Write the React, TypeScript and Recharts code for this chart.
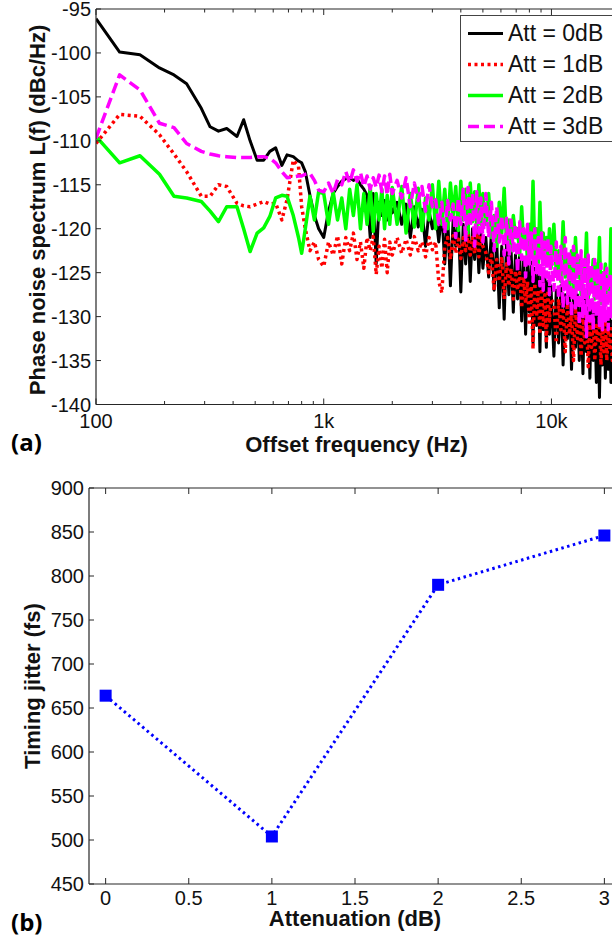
import React from "react";
import { LineChart, Line, XAxis, YAxis, Legend, Label } from "recharts";

const FONT = '"Liberation Sans", Arial, Helvetica, sans-serif';
const AXIS = "#262626";
const INK = "#111";

// (a) phase noise spectrum, offset frequency grid in Hz
const offsetFreq = [
  100, 127, 156, 190, 220, 250, 290, 317, 345, 375, 416, 445, 475, 510, 545, 580, 615, 655, 690, 735, 775, 800, 830, 870, 910, 950,
  1000, 1050, 1100, 1150, 1200, 1250, 1300, 1350, 1400, 1450, 1500, 1550, 1600, 1650, 1700, 1750, 1800, 1850, 1900, 1950, 2000,
  2100, 2200, 2300, 2400, 2500, 2600, 2700, 2800, 2900, 3000, 3100, 3200, 3300, 3400, 3500, 3600, 3700, 3800, 3900, 4000,
  4100, 4200, 4300, 4400, 4500, 4600, 4700, 4800, 4900, 5000,
  5150, 5300, 5450, 5600, 5750, 5900, 6050, 6200, 6350, 6500, 6650, 6800, 6950, 7100, 7250, 7400, 7550, 7700, 7850, 8000,
  8150, 8300, 8450, 8600, 8750, 8900, 9050, 9200, 9350, 9500, 9650, 9800, 9950,
  10250, 10500, 10750, 11000, 11250, 11500, 11750, 12000, 12250, 12500, 12750, 13000, 13250, 13500, 13750, 14000,
  14250, 14500, 14750, 15000, 15250, 15500, 15750, 16000, 16250, 16500, 16750, 17000, 17250, 17500, 17750, 18000,
  18250, 18500, 18750, 19000, 19250, 19500, 19750, 20000,
];

const att0dB = [
  -96.1, -99.9, -100.2, -101.7, -102.5, -103.5, -106.3, -108.4, -108.9, -108.6, -109.5, -107.6, -110, -112.2, -112.2, -111.2,
  -110.8, -112.8, -111.6, -111.8, -112.3, -112.5, -113.5, -116.2, -118.5, -120,
  -121, -118, -116, -115.2, -114.6, -114.3, -114.2, -114.5, -114.3, -115, -115.5, -116.2, -121, -116, -124, -117, -118.5,
  -116.8, -119, -117, -118.2,
  -117, -119.5, -117.2, -121, -117.5, -119.8, -117.8, -122, -118, -120, -118.2, -121.5, -118, -124, -118.5, -126.5, -119,
  -122, -118.8, -127.2, -119.5, -124, -119.2, -126, -120, -123.5, -119.5, -125, -120.5, -124.5,
  -121, -125.5, -120.5, -127, -121.5, -129, -122, -130.3, -121.5, -127.5, -122.5, -129.5, -123, -128, -122.8, -130.5,
  -123.5, -132, -124, -129.5, -123.8, -133, -124.5, -131, -125, -134, -125.5, -131.5, -125, -133.5, -126, -132, -126.5,
  -134.5, -127, -133, -126.5, -135.5, -127.5, -132.5, -127, -136, -128, -133.5, -127.5, -135, -128.5, -136.5, -128,
  -134, -129, -137, -128.5, -135, -129.5, -137.5, -129, -139.2, -130, -135.5, -129.5, -137, -130, -136, -129.5,
  -137.5, -130.5, -135, -130, -136.5, -131, -135.5, -131,
];

const att1dB = [
  -110.3, -107, -107.2, -109.3, -111.5, -113.5, -116.3, -116.3, -115, -115.2, -117.1, -117.4, -117.5, -117.2, -116.9, -117.2,
  -117.1, -119, -116.7, -112.2, -112.9, -117.5, -120, -122.5, -121.5, -123.5,
  -124.3, -121.5, -123, -120.8, -124, -121, -122.5, -120.5, -123.5, -121.5, -124.5, -121, -122.5, -120.9, -125.2, -122,
  -124.5, -121.2, -125, -121.5, -123,
  -121, -122.8, -121.2, -123, -120.9, -122.5, -121.5, -123.2, -121, -122.4, -121.5, -126, -127.3, -122, -121, -123.5,
  -120.8, -122.8, -121.2, -123.4, -121, -122.5, -120.6, -123, -121, -122.8, -120.5, -123.2, -120.8, -122,
  -122.7, -125, -123, -127, -123.5, -126, -123.2, -128, -124, -126.5, -124.5, -128, -124.8, -127, -125, -129, -125.5,
  -128.5, -126, -131, -126.5, -133.7, -126.2, -130, -127, -132, -126.8, -131, -127.5, -133, -127, -130.5, -128,
  -128.5, -133, -128, -131.5, -129, -134, -128.5, -132, -129.5, -135, -129, -132.5, -130, -134.5, -129.5, -133,
  -130, -135.7, -130.5, -133.5, -130, -135, -131, -133, -130.5, -135.5, -131, -134, -130.5, -135, -131.5, -133.5,
  -131, -135, -131.5, -134, -131, -134.5, -132, -133.5,
];

const att2dB = [
  -109.5, -112.5, -111.7, -113.8, -116.3, -116.5, -116.9, -118, -119.2, -117.5, -117.5, -120, -122.6, -120.5, -119.9, -118.6,
  -116.5, -116.2, -116.3, -118.5, -121, -122.8, -120, -116.3, -119, -115.8,
  -116, -119.5, -115.8, -119, -116.5, -120, -115.5, -118.5, -115, -120, -116, -119.5, -115.2, -120.3, -116, -119, -115.5,
  -120, -116.2, -119.5, -115.3,
  -119.5, -115.2, -120.5, -116, -119.8, -115.4, -120.2, -116.5, -119, -115, -120, -114.6, -119.5, -115.5, -120, -114.8,
  -118.5, -115.2, -120.2, -114.6, -119, -115.5, -120.5, -114.8, -119.2, -115.8, -120, -115, -119.5, -116,
  -119.5, -116, -121, -118.5, -122, -117, -120.5, -115.4, -121.5, -119, -122.5, -118.5, -121, -120, -123, -117.5,
  -122, -120.5, -123.5, -119.5, -122.5, -114.6, -123, -120, -124, -117, -123, -120.5, -124, -121, -123.5, -120, -124.5,
  -119.5, -125, -122.5, -126, -119.2, -125.5, -123, -126.5, -122.5, -127, -121, -125.5, -123.5, -127.5, -124, -126,
  -120.5, -128, -124.5, -126.5, -123.5, -128, -124, -127, -121, -128.5, -125, -127, -124, -128, -125.5, -127.5,
  -120, -128.5, -125, -127.5, -124.5, -128, -125.5, -127,
];

const att3dB = [
  -109.7, -102.5, -104.2, -108, -108.5, -110.3, -111.2, -111.5, -111.7, -111.8, -111.9, -111.9, -111.9, -111.8, -111.8, -112,
  -112.5, -113.5, -114.2, -114.1, -114, -114, -113.8, -113.7, -114.5, -115.6,
  -115.8, -114.8, -116, -114.4, -115, -113.5, -114.8, -113.3, -114.6, -113.6, -115.2, -114, -115.5, -114.2, -115.3, -113.9,
  -115.8, -114, -116.2, -113.8, -116,
  -114.5, -116.5, -114.2, -117.5, -114.8, -116.8, -115.2, -118, -115, -117.5, -116.7, -119.5, -117, -120.5, -116.8, -119,
  -117.2, -121, -116.5, -119.5, -115.5, -121.5, -115.3, -119.8, -116, -122, -115.8, -120.5, -116.5, -121.5,
  -116, -121, -117, -122.5, -117.5, -121.5, -118.5, -123, -118.8, -124, -119, -122.5, -119.5, -125, -119.2, -123.5, -120,
  -125.5, -119.5, -124, -120.5, -126, -120, -125, -121, -126.5, -120.5, -127, -121.5, -125.5, -121, -127.5, -122,
  -127, -121.5, -128, -122, -129, -121, -128.5, -122.5, -130, -122, -129, -123, -131, -122.5, -130, -123.5,
  -132.3, -123, -130.5, -124, -131.5, -123.5, -130, -124.5, -131, -124, -131.5, -125, -130.5, -124.5, -131.5, -125,
  -130, -125.5, -131, -125, -130.5, -126, -131, -125.5,
];

const freqTicks = [
  100, 200, 300, 400, 500, 600, 700, 800, 900, 1000, 2000, 3000, 4000, 5000, 6000, 7000, 8000, 9000, 10000, 20000,
];
const freqLabels: Record<number, string> = { 100: "100", 1000: "1k", 10000: "10k" };
const noiseTicks = [-140, -135, -130, -125, -120, -115, -110, -105, -100, -95];

const SERIES = [
  { key: "att0", name: "Att = 0dB", color: "#000000", width: 3, dash: undefined as string | undefined },
  { key: "att1", name: "Att = 1dB", color: "#ff0000", width: 3.5, dash: "3 3.5" },
  { key: "att2", name: "Att = 2dB", color: "#00ff00", width: 3.5, dash: undefined },
  { key: "att3", name: "Att = 3dB", color: "#ff00ff", width: 3.5, dash: "11 5" },
];

// (b) timing jitter vs attenuation
const attenuation = [0, 1, 2, 3];
const jitterFs = [664, 504, 790, 846];
const attTicks = [0, 0.5, 1, 1.5, 2, 2.5, 3];
const jitterTicks = [450, 500, 550, 600, 650, 700, 750, 800, 850, 900];

const noiseData = offsetFreq.map((f, i) => ({
  f,
  att0: att0dB[i],
  att1: att1dB[i],
  att2: att2dB[i],
  att3: att3dB[i],
}));
const jitterData = attenuation.map((a, i) => ({ att: a, jitter: jitterFs[i] }));

const bottomTick = (fmt: (v: number) => string | null, dy: number) => (props: any) => {
  const { x, y, payload } = props;
  const label = fmt(payload.value);
  return (
    <g>
      <line x1={x} x2={x} y1={y} y2={y - (label === null ? 3.5 : 6)} stroke={AXIS} strokeWidth={1} />
      {label !== null && (
        <text x={x} y={y + dy} textAnchor="middle" fontSize={20} fontFamily={FONT} fill={INK}>
          {label}
        </text>
      )}
    </g>
  );
};

const topTick = (isMinor: (v: number) => boolean) => (props: any) => {
  const { x, y, payload } = props;
  return <line x1={x} x2={x} y1={y} y2={y + (isMinor(payload.value) ? 3.5 : 6)} stroke={AXIS} strokeWidth={1} />;
};

const leftTick = (props: any) => {
  const { x, y, payload } = props;
  return (
    <g>
      <line x1={x} x2={x + 5} y1={y} y2={y} stroke={AXIS} strokeWidth={1} />
      <text x={x - 5} y={y} dy="0.36em" textAnchor="end" fontSize={20} fontFamily={FONT} fill={INK}>
        {payload.value}
      </text>
    </g>
  );
};

const axisTitle = (x: number, y: number, text: string) => (
  <Label
    content={() => (
      <text x={x} y={y} textAnchor="middle" fontSize={22} fontWeight="bold" fontFamily={FONT} fill={INK}>
        {text}
      </text>
    )}
  />
);

const renderLegend = () => (
  <div
    style={{
      border: "1px solid #444",
      background: "#fff",
      width: 170,
      height: 127,
      boxSizing: "border-box",
      paddingTop: 2,
    }}
  >
    {SERIES.map((s) => (
      <div key={s.key} style={{ display: "flex", alignItems: "center", height: 31 }}>
        <svg width={47} height={31}>
          <line x1={7} x2={42} y1={15.5} y2={15.5} stroke={s.color} strokeWidth={s.width} strokeDasharray={s.dash} />
        </svg>
        <span style={{ fontFamily: FONT, fontSize: 23, color: INK, whiteSpace: "nowrap", lineHeight: "31px" }}>
          {s.name}
        </span>
      </div>
    ))}
  </div>
);

const SquareDot = (props: any) => {
  const { cx, cy } = props;
  if (cx == null || cy == null) return null;
  return <rect x={cx - 6} y={cy - 6} width={12} height={12} fill="#0000ff" />;
};

const panelTag = (top: number, text: string) => (
  <div
    style={{
      position: "absolute",
      left: 11,
      top,
      fontFamily: '"Open Sans", "Noto Sans", sans-serif',
      fontWeight: 700,
      fontSize: 24,
      lineHeight: "30px",
      color: "#000",
    }}
  >
    {text}
  </div>
);

export default function App() {
  return (
    <div style={{ position: "absolute", left: 0, top: 0, width: 612, height: 939, overflow: "hidden", background: "#fff" }}>
      <div style={{ position: "absolute", left: 0, top: 0 }}>
        <LineChart width={640} height={460} data={noiseData} margin={{ top: 8, right: 20, bottom: 54.5, left: 36 }}>
          <XAxis
            dataKey="f"
            type="number"
            scale="log"
            domain={[100, 20000]}
            allowDataOverflow
            ticks={freqTicks}
            interval={0}
            height={1}
            tickSize={0}
            tickMargin={0}
            tickLine={false}
            axisLine={{ stroke: AXIS, strokeWidth: 1.2 }}
            tick={bottomTick((v) => freqLabels[v] ?? null, 23.5)}
            label={axisTitle(356.5, 452, "Offset frequency (Hz)")}
          />
          <XAxis
            xAxisId="top"
            orientation="top"
            dataKey="f"
            type="number"
            scale="log"
            domain={[100, 20000]}
            allowDataOverflow
            ticks={freqTicks}
            interval={0}
            height={1}
            tickSize={0}
            tickMargin={0}
            tickLine={false}
            axisLine={{ stroke: AXIS, strokeWidth: 1.2 }}
            tick={topTick((v) => freqLabels[v] === undefined)}
          />
          <YAxis
            type="number"
            domain={[-140, -95]}
            allowDataOverflow
            ticks={noiseTicks}
            interval={0}
            width={60}
            tickSize={0}
            tickMargin={0}
            tickLine={false}
            axisLine={{ stroke: AXIS, strokeWidth: 1.2 }}
            tick={leftTick}
          />
          {SERIES.map((s) => (
            <Line
              key={s.key}
              dataKey={s.key}
              name={s.name}
              type="linear"
              stroke={s.color}
              strokeWidth={s.width}
              strokeDasharray={s.dash}
              strokeLinejoin="round"
              dot={false}
              activeDot={false}
              isAnimationActive={false}
            />
          ))}
          <Legend
            layout="vertical"
            align="center"
            verticalAlign="middle"
            content={renderLegend}
            wrapperStyle={{ left: 460, top: 15, width: 170, height: 127 }}
          />
        </LineChart>
      </div>
      {panelTag(427, "(a)")}

      <div style={{ position: "absolute", left: 0, top: 460 }}>
        <LineChart width={640} height={479} data={jitterData} margin={{ top: 27, right: 19, bottom: 54, left: 29 }}>
          <XAxis
            dataKey="att"
            type="number"
            domain={[-0.1, 3.1]}
            allowDataOverflow
            ticks={attTicks}
            interval={0}
            height={1}
            tickSize={0}
            tickMargin={0}
            tickLine={false}
            axisLine={{ stroke: AXIS, strokeWidth: 1.2 }}
            tick={bottomTick((v) => String(v), 20.5)}
            label={axisTitle(355, 466, "Attenuation (dB)")}
          />
          <XAxis
            xAxisId="top"
            orientation="top"
            dataKey="att"
            type="number"
            domain={[-0.1, 3.1]}
            allowDataOverflow
            ticks={attTicks}
            interval={0}
            height={1}
            tickSize={0}
            tickMargin={0}
            tickLine={false}
            axisLine={{ stroke: AXIS, strokeWidth: 1.2 }}
            tick={topTick(() => false)}
          />
          <YAxis
            type="number"
            domain={[450, 900]}
            allowDataOverflow
            ticks={jitterTicks}
            interval={0}
            width={60}
            tickSize={0}
            tickMargin={0}
            tickLine={false}
            axisLine={{ stroke: AXIS, strokeWidth: 1.2 }}
            tick={leftTick}
          />
          <Line
            dataKey="jitter"
            type="linear"
            stroke="#0000ff"
            strokeWidth={3}
            strokeDasharray="2.5 3.5"
            dot={<SquareDot />}
            activeDot={false}
            isAnimationActive={false}
          />
        </LineChart>
      </div>
      {panelTag(907, "(b)")}

      <svg style={{ position: "absolute", left: 0, top: 0, pointerEvents: "none" }} width={612} height={939}>
        <text
          x={37}
          y={210}
          dy="0.36em"
          textAnchor="middle"
          fontSize={22}
          fontWeight="bold"
          fontFamily={FONT}
          fill={INK}
          transform="rotate(-90 37 210)"
        >
          Phase noise spectrum L(f) (dBc/Hz)
        </text>
        <text
          x={32}
          y={686}
          dy="0.36em"
          textAnchor="middle"
          fontSize={22}
          fontWeight="bold"
          fontFamily={FONT}
          fill={INK}
          transform="rotate(-90 32 686)"
        >
          Timing jitter (fs)
        </text>
      </svg>
    </div>
  );
}
